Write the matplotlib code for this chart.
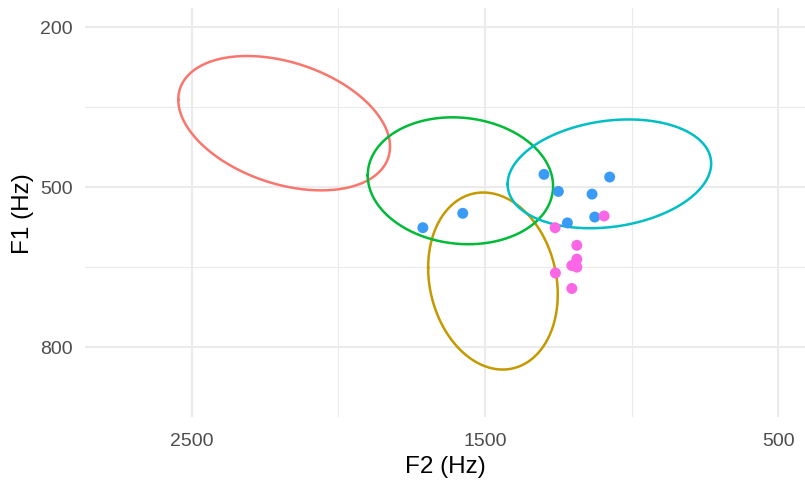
import numpy as np
import matplotlib
matplotlib.use("Agg")
import matplotlib.pyplot as plt

plt.rcParams['font.family'] = ['Liberation Sans', 'DejaVu Sans']

# Vowel ellipses (F2 centre, F1 centre, F2 half-extent, F1 half-extent, correlation)
ell_colors = ['#F8766D', '#C49A00', '#00BA38', '#00BFC4']
ell_f2 = [2185, 1473, 1584, 1076]
ell_f1 = [381, 677, 489, 476]
ell_f2_half = [361, 221, 316, 347]
ell_f1_half = [126, 166, 119, 102]
ell_rho = [-0.35, -0.15, -0.085, 0.19]

# Speaker tokens
blue_f2 = [1299, 1250, 1075, 1135, 1126, 1219, 1576, 1712]
blue_f1 = [477, 509, 482, 514, 557, 568, 550, 577]
pink_f2 = [1094, 1261, 1187, 1187, 1204, 1187, 1260, 1204]
pink_f1 = [555, 577, 610, 636, 648, 651, 662, 691]

x_ticks = [2500, 1500, 500]
x_minor = [2000, 1000]
y_ticks = [200, 500, 800]
y_minor = [350, 650]

fig = plt.figure(figsize=(8.05, 4.81), dpi=100)
ax = fig.add_axes([85/805, 1 - 418/481, 1 - 85/805, (418 - 9)/481])

t = np.linspace(0, 2*np.pi, 300)
for c, cx, cy, hx, hy, r in zip(ell_colors, ell_f2, ell_f1, ell_f2_half, ell_f1_half, ell_rho):
    xs = cx + hx*np.cos(t)
    ys = cy + hy*(r*np.cos(t) + np.sqrt(1 - r*r)*np.sin(t))
    ax.plot(xs, ys, color=c, lw=1.8, zorder=3)

ax.scatter(blue_f2, blue_f1, s=62, color='#3A9BF7', edgecolors='none', zorder=4)
ax.scatter(pink_f2, pink_f1, s=62, color='#FA66E6', edgecolors='none', zorder=4)

ax.set_xlim(2864, 409)
ax.set_ylim(932, 165)

ax.set_xticks(x_ticks)
ax.set_xticks(x_minor, minor=True)
ax.set_yticks(y_ticks)
ax.set_yticks(y_minor, minor=True)
ax.set_xticklabels([str(v) for v in x_ticks])
ax.set_yticklabels([str(v) for v in y_ticks])

ax.grid(True, which='major', color='#EBEBEB', lw=1.5, zorder=0)
ax.grid(True, which='minor', color='#EBEBEB', lw=0.8, zorder=0)
ax.set_axisbelow(True)
for s in ax.spines.values():
    s.set_visible(False)
ax.tick_params(which='both', length=0)
ax.tick_params(axis='x', pad=11, labelsize=14, labelcolor='#4D4D4D')
ax.tick_params(axis='y', pad=9, labelsize=14, labelcolor='#4D4D4D')

ax.set_xlabel('F2 (Hz)', fontsize=17.5, color='black', labelpad=4)
ax.set_ylabel('F1 (Hz)', fontsize=17.5, color='black', labelpad=4)

fig.savefig('out.png', dpi=100)
